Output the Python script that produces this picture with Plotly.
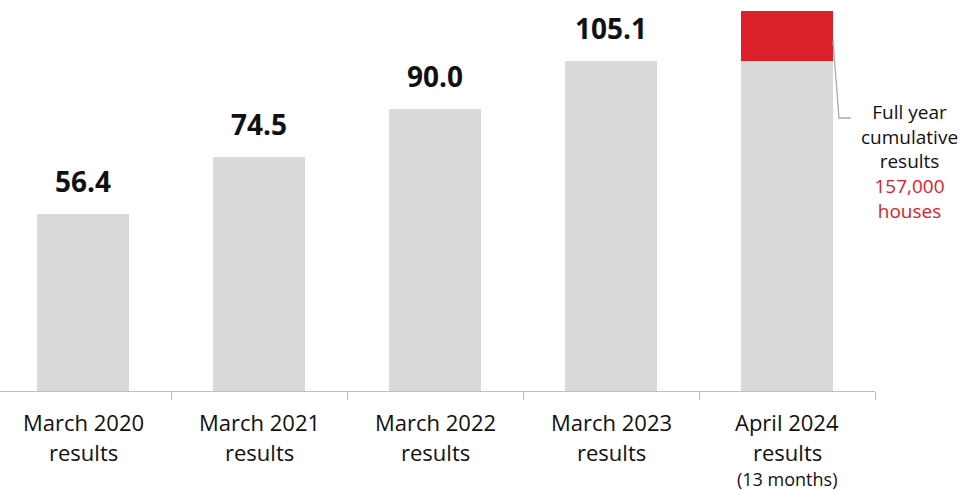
import plotly.graph_objects as go

# ---- data ----
categories = ["March 2020", "March 2021", "March 2022", "March 2023", "April 2024"]
label_line2 = ["results", "results", "results", "results", "results"]
label_note = ["", "", "", "", "(13 months)"]
gray_values = [56.4, 74.5, 90.0, 105.1, 105.1]
red_values = [0, 0, 0, 0, 16.0]
value_labels = ["56.4", "74.5", "90.0", "105.1", ""]
side_note_lines = ["Full year", "cumulative", "results"]
side_note_red = ["157,000", "houses"]

GRAY = "#d9d9d9"
RED = "#da2129"
AXIS = "#bfbfbf"
FONT = "Open Sans"

# layout geometry
W, H = 966, 490
plot_h = 391
plot_w = 875
cat_px = 176.0
px_per_unit = 3.137
bar_w = 0.523
x0 = -0.5 + 5 / cat_px

fig = go.Figure()
fig.add_trace(go.Bar(x=categories, y=gray_values, marker=dict(color=GRAY, line=dict(width=0)),
                     width=bar_w, hoverinfo="skip"))
fig.add_trace(go.Bar(x=categories, y=red_values, marker=dict(color=RED, line=dict(width=0)),
                     width=bar_w, hoverinfo="skip"))

annotations = []
for c, v, t in zip(categories, gray_values, value_labels):
    if t:
        annotations.append(dict(x=c, y=v, xref="x", yref="y", text=f"<b>{t}</b>",
                                showarrow=False, yanchor="middle", yshift=33,
                                font=dict(family=FONT, size=28, color="#111111")))

def py(pix):
    return (plot_h - pix) / plot_h

for c, l2, n in zip(categories, label_line2, label_note):
    annotations.append(dict(x=c, y=py(422), xref="x", yref="paper", text=c, showarrow=False,
                            yanchor="middle", font=dict(family=FONT, size=22, color="#111111")))
    annotations.append(dict(x=c, y=py(452), xref="x", yref="paper", text=l2, showarrow=False,
                            yanchor="middle", font=dict(family=FONT, size=22, color="#111111")))
    if n:
        annotations.append(dict(x=c, y=py(479), xref="x", yref="paper", text=n, showarrow=False,
                                yanchor="middle", font=dict(family=FONT, size=18, color="#111111")))

side_text = "<br>".join(side_note_lines + [f"<span style='color:{RED}'>{s}</span>" for s in side_note_red])
annotations.append(dict(x=909 / plot_w, y=py(161), xref="paper", yref="paper", text=side_text,
                        showarrow=False, xanchor="center", yanchor="middle", align="center",
                        font=dict(family=FONT, size=19, color="#111111")))

# leader line from red segment to side note
last_idx = len(categories) - 1
lx0 = last_idx + bar_w / 2
ly0 = gray_values[-1] + red_values[-1] * 0.4
lx1 = lx0 + 6 / cat_px
ly1 = (plot_h - 118) / px_per_unit
lx2 = lx1 + 12 / cat_px
shape = dict(type="path", xref="x", yref="y",
             path=f"M {lx0},{ly0} L {lx1},{ly1} L {lx2},{ly1}",
             line=dict(color="#aaaaaa", width=1.3))

fig.update_layout(
    width=W, height=H,
    margin=dict(l=0, r=W - plot_w, t=0, b=H - plot_h, pad=0),
    barmode="stack", showlegend=False,
    plot_bgcolor="white", paper_bgcolor="white",
    annotations=annotations, shapes=[shape],
    xaxis=dict(type="category", range=[x0, last_idx + 0.5], showline=True, linecolor=AXIS,
               linewidth=1.3, ticks="outside", tickson="boundaries", ticklen=8,
               tickcolor=AXIS, tickwidth=1.3, showticklabels=False, showgrid=False, zeroline=False),
    yaxis=dict(range=[0, plot_h / px_per_unit], visible=False, showgrid=False, zeroline=False),
)

fig.write_html("out.html", config={"displayModeBar": False},
               post_script="document.body.style.margin='0';document.body.style.overflow='hidden';")
